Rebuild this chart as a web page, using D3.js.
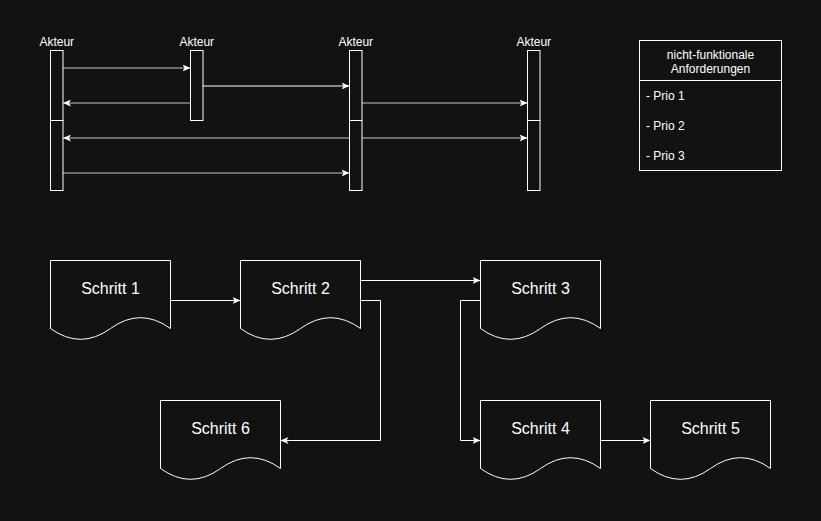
<!DOCTYPE html>
<html><head><meta charset="utf-8">
<script src="https://cdn.jsdelivr.net/npm/d3@7"></script>
<style>html,body{margin:0;padding:0;background:#121212;overflow:hidden}svg{display:block}</style>
</head><body>
<script>
// ---------- data ----------
const actors = ["A1", "A2", "A3", "A4"];
const actorLabels = ["Akteur", "Akteur", "Akteur", "Akteur"];
// activation bars: [actor, fromSlot, toSlot]
const activations = [["A1",0,4],["A1",4,8],["A2",0,4],["A3",0,4],["A3",4,8],["A4",0,4],["A4",4,8]];
// messages between actors
const msgFrom = ["A1","A2","A2","A3","A1","A1"];
const msgTo   = ["A2","A3","A1","A4","A4","A3"];
const msgSlot = [1, 2, 3, 3, 5, 7];
const msgKind = ["grey","white","grey","grey","grey","grey"];
const msgBoth = [false,false,false,false,true,false];

const noteTitle = ["nicht-funktionale", "Anforderungen"];
const noteItems = ["- Prio 1", "- Prio 2", "- Prio 3"];

const stepIds    = ["S1","S2","S3","S4","S5","S6"];
const stepLabels = ["Schritt 1","Schritt 2","Schritt 3","Schritt 4","Schritt 5","Schritt 6"];
const stepCol    = [0, 2, 3, 3, 4, 1];
const stepRow    = [0, 0, 0, 1, 1, 1];
// links: source, target, exit side, exit fraction, entry side, entry fraction
const linkSource = ["S1","S2","S2","S3","S4"];
const linkTarget = ["S2","S3","S6","S4","S5"];
const linkExit   = ["right","right","right","left","right"];
const linkExitF  = [0.5, 0.25, 0.5, 0.5, 0.5];
const linkEntry  = ["left","left","right","left","left"];
const linkEntryF = [0.5, 0.25, 0.5, 0.5, 0.5];

// ---------- layout ----------
const W = 821, H = 521;
const svg = d3.select("body").append("svg").attr("width", W).attr("height", H);
svg.append("rect").attr("width", W).attr("height", H).attr("fill", "#121212");
const FONT = "'Liberation Sans', Arial, Helvetica, sans-serif";

const defs = svg.append("defs");
defs.append("marker").attr("id","arr").attr("viewBox","0 0 8 7")
  .attr("markerUnits","userSpaceOnUse").attr("markerWidth",8).attr("markerHeight",7)
  .attr("refX",8).attr("refY",3.5).attr("orient","auto-start-reverse")
  .append("path").attr("d","M0,0 L8,3.5 L0,7 L2,3.5 Z").attr("fill","#ffffff");

// sequence part
const ax = d3.scaleOrdinal().domain(actors).range([50.5, 190.5, 349.5, 527.5]);
const sy = d3.scaleLinear().domain([0, 8]).range([50.5, 190.5]);
const BW = 12.5;

const labels = svg.append("g");
actors.forEach((a, i) => {
  labels.append("text").attr("x", ax(a) + BW/2).attr("y", 46)
    .attr("text-anchor","middle").attr("font-family", FONT).attr("font-size", 12)
    .attr("fill","#ffffff").text(actorLabels[i]);
});

const mg = svg.append("g");
msgFrom.forEach((f, i) => {
  const t = msgTo[i];
  const x1 = ax(f) < ax(t) ? ax(f) + BW : ax(f);
  const x2 = ax(f) < ax(t) ? ax(t) : ax(t) + BW;
  const y = Math.round(sy(msgSlot[i]));
  const ln = mg.append("line").attr("x1", x1).attr("x2", x2).attr("y1", y).attr("y2", y)
    .attr("stroke", msgKind[i] === "white" ? "#ffffff" : "#8a8a8a")
    .attr("stroke-width", msgKind[i] === "white" ? 1 : 1.5)
    .attr("marker-end","url(#arr)");
  if (msgBoth[i]) ln.attr("marker-start","url(#arr)");
});

svg.append("g").selectAll("rect").data(activations).join("rect")
  .attr("x", d => ax(d[0])).attr("y", d => sy(d[1]))
  .attr("width", BW).attr("height", d => sy(d[2]) - sy(d[1]))
  .attr("fill","#121212").attr("stroke","#ffffff").attr("stroke-width",1);

// note box
const note = svg.append("g");
note.append("rect").attr("x",639.5).attr("y",40.5).attr("width",142).attr("height",130)
  .attr("fill","#121212").attr("stroke","#ffffff");
note.append("line").attr("x1",639.5).attr("x2",781.5).attr("y1",80.5).attr("y2",80.5).attr("stroke","#ffffff");
noteTitle.forEach((t, i) => note.append("text").attr("x",710.5).attr("y",59 + i*14)
  .attr("text-anchor","middle").attr("font-family",FONT).attr("font-size",12).attr("fill","#ffffff").text(t));
noteItems.forEach((t, i) => note.append("text").attr("x",646).attr("y",100 + i*30)
  .attr("font-family",FONT).attr("font-size",12).attr("fill","#ffffff").text(t));

// flow part
const cx = d3.scaleOrdinal().domain([0,1,2,3,4]).range([50.5, 160.5, 240.5, 480.5, 650.5]);
const ry = d3.scaleOrdinal().domain([0,1]).range([260.5, 400.5]);
const SW = 120, SH = 80, dy = SH * 0.3;
const pos = {};
stepIds.forEach((id, i) => pos[id] = {x: cx(stepCol[i]), y: ry(stepRow[i])});

const docPath = `M0,0 H${SW} V${SH-dy/2} Q${SW*0.75},${SH-dy*1.4} ${SW/2},${SH-dy/2} Q${SW*0.25},${SH+dy*0.4} 0,${SH-dy/2} Z`;

const lg = svg.append("g");
linkSource.forEach((s, i) => {
  const a = pos[s], b = pos[linkTarget[i]];
  const ex = linkExit[i] === "right" ? a.x + SW : a.x;
  const ey = a.y + SH * linkExitF[i];
  const nx = linkEntry[i] === "right" ? b.x + SW : b.x;
  const ny = b.y + SH * linkEntryF[i];
  let pts;
  if (Math.abs(ey - ny) < 1) pts = [[ex, ey], [nx, ny]];
  else {
    const mx = linkExit[i] === "right" ? ex + 20 : ex - 20;
    pts = [[ex, ey], [mx, ey], [mx, ny], [nx, ny]];
  }
  lg.append("path").attr("d", d3.line()(pts)).attr("fill","none")
    .attr("stroke","#ffffff").attr("stroke-width",1).attr("marker-end","url(#arr)");
});

const sg = svg.append("g").selectAll("g").data(stepIds).join("g")
  .attr("transform", d => `translate(${pos[d].x},${pos[d].y})`);
sg.append("path").attr("d", docPath).attr("fill","#121212").attr("stroke","#ffffff").attr("stroke-width",1);
sg.append("text").attr("x", SW/2).attr("y", 28).attr("dy","0.35em").attr("text-anchor","middle")
  .attr("font-family",FONT).attr("font-size",16).attr("fill","#ffffff")
  .text((d, i) => stepLabels[i]);
</script>
</body></html>
